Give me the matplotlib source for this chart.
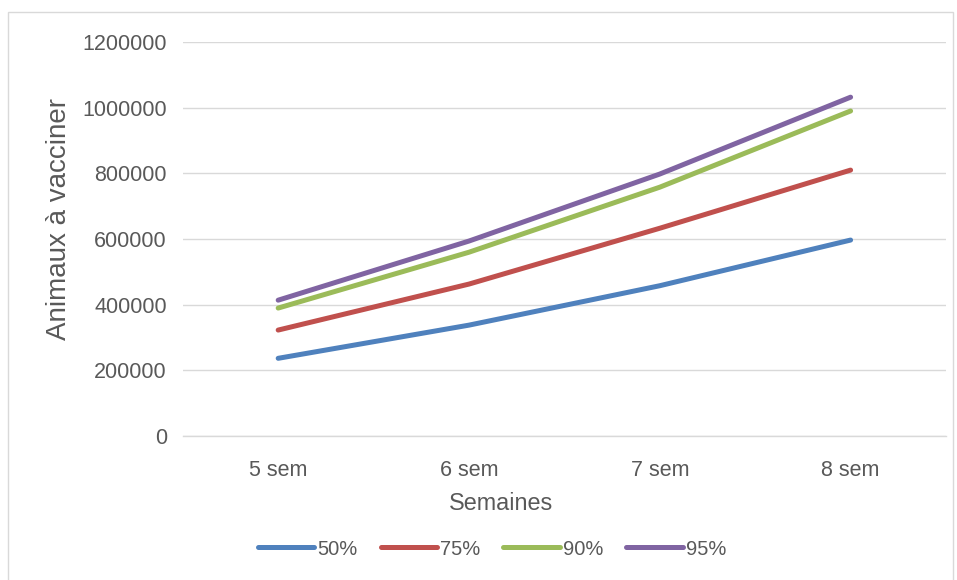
import matplotlib.pyplot as plt
from matplotlib.patches import Rectangle

# Données : animaux à vacciner selon la durée et le taux de couverture
semaines = ["5 sem", "6 sem", "7 sem", "8 sem"]
couv_50 = [237000, 338000, 458000, 597000]
couv_75 = [323000, 463000, 633000, 810000]
couv_90 = [390000, 560000, 758000, 990000]
couv_95 = [414000, 594000, 798000, 1032000]
series = [("50%", couv_50, "#4F81BD"), ("75%", couv_75, "#C0504D"),
          ("90%", couv_90, "#9BBB59"), ("95%", couv_95, "#8064A2")]
yticks = [0, 200000, 400000, 600000, 800000, 1000000, 1200000]

plt.rcParams['font.family'] = ['Liberation Sans', 'DejaVu Sans']
txt = "#595959"
grille = "#D9D9D9"

fig = plt.figure(figsize=(9.57, 5.8), dpi=100)
fig.patches.append(Rectangle((0.0084, -0.01), 0.9874, 0.989, transform=fig.transFigure,
                             fill=False, edgecolor=grille, linewidth=1))
ax = fig.add_axes([0.191, 0.248, 0.7975, 0.6796])

x = list(range(len(semaines)))
for nom, vals, col in series:
    ax.plot(x, vals, color=col, linewidth=3.6, solid_capstyle="round", label=nom, zorder=3)

ax.set_xlim(-0.5, len(semaines) - 0.5)
ax.set_ylim(0, 1200000)
ax.set_yticks(yticks)
ax.set_yticklabels([str(v) for v in yticks])
ax.set_xticks(x)
ax.set_xticklabels(semaines)
ax.grid(axis="y", color=grille, linewidth=1)
ax.axhline(0, color=grille, linewidth=1, clip_on=False, zorder=1)
ax.set_axisbelow(True)
for s in ax.spines.values():
    s.set_visible(False)
ax.tick_params(axis="both", length=0, colors=txt, labelsize=15.5)
ax.tick_params(axis="y", pad=11.5)
ax.tick_params(axis="x", pad=17)

ax.set_xlabel("Semaines", color=txt, fontsize=16.8)
ax.xaxis.set_label_coords(0.417, -0.142)
ax.set_ylabel("Animaux à vacciner", color=txt, fontsize=20)
ax.yaxis.set_label_coords(-0.145, 0.55)

fig.legend(loc="center", bbox_to_anchor=(0.514, 0.0534), ncol=4, frameon=False,
           fontsize=14.5, labelcolor=txt, handlelength=2.8, handletextpad=0.15,
           columnspacing=1.15)

fig.savefig("out.png", dpi=100)
